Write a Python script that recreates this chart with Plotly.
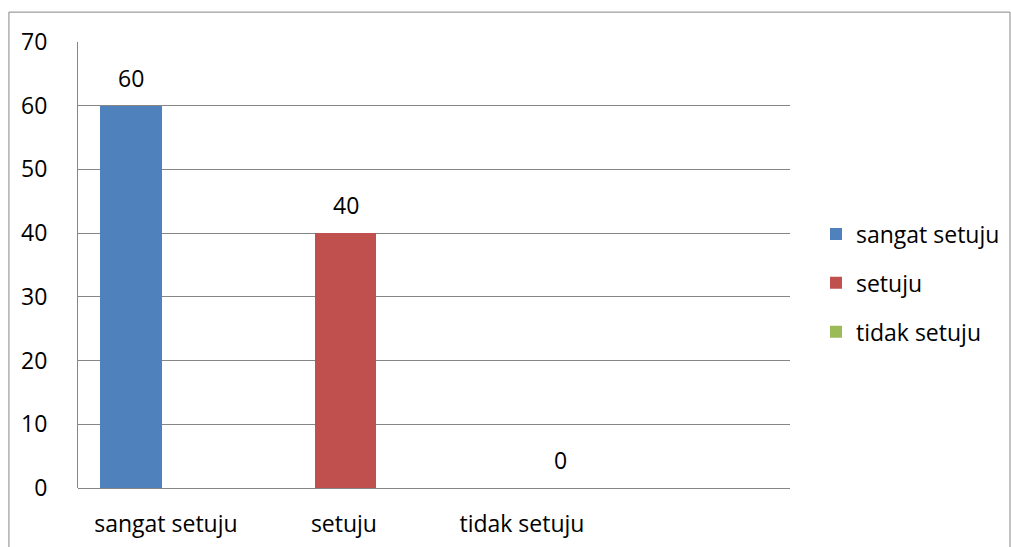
import plotly.graph_objects as go

categories = ["sangat setuju", "setuju", "tidak setuju"]
series_names = ["sangat setuju", "setuju", "tidak setuju"]
values = [60, 40, 0]
colors = ["#4F81BD", "#C0504D", "#9BBB59"]
y_ticks = [0, 10, 20, 30, 40, 50, 60, 70]

FONT = "Open Sans"
FS = 23
fig = go.Figure()
for i, (name, v, c) in enumerate(zip(series_names, values, colors)):
    fig.add_trace(go.Bar(
        x=[i], y=[v], name=name, marker=dict(color=c, line=dict(width=0)),
        width=0.285, legendgroup=name, showlegend=True,
    ))
    fig.add_annotation(x=i, y=v, text=str(v), showarrow=False, yanchor="middle",
                       yshift=28, font=dict(family=FONT, size=FS, color="#000000"))

# invisible trace to carry the category labels on a second x axis
fig.add_trace(go.Scatter(x=categories, y=[0, 0, 0], xaxis="x2", mode="markers",
                         marker=dict(opacity=0), showlegend=False, hoverinfo="skip"))

fig.update_layout(
    width=1011, height=547,
    margin=dict(l=78, r=221, t=42, b=59, autoexpand=False),
    paper_bgcolor="white", plot_bgcolor="white",
    font=dict(family=FONT, size=FS, color="#000000"),
    bargap=0,
    xaxis=dict(range=[-0.247, 3.072], showticklabels=False, showgrid=False,
               zeroline=False, showline=False, ticks="", automargin=False),
    xaxis2=dict(type="category", categoryarray=categories, range=[-0.494, 3.506],
                overlaying="x", side="bottom", showgrid=False, zeroline=False,
                showline=False, ticks="", ticklabelstandoff=20, automargin=False,
                tickfont=dict(family=FONT, size=FS)),
    yaxis=dict(range=[0, 70], tickvals=y_ticks, showgrid=True, gridcolor="#868686",
               gridwidth=1, zeroline=True, zerolinecolor="#868686", zerolinewidth=1,
               showline=True, linecolor="#868686", linewidth=1, ticks="",
               automargin=False,
               ticklabelstandoff=25, tickfont=dict(family=FONT, size=FS)),
    legend=dict(x=1.0365, y=0.4596, xanchor="left", yanchor="middle",
                font=dict(family=FONT, size=FS), tracegroupgap=16,
                itemwidth=30, bgcolor="rgba(0,0,0,0)"),
    showlegend=True,
)
fig.add_shape(type="rect", xref="paper", yref="paper",
              x0=-0.097, x1=1.309, y0=-0.135, y1=1.067,
              line=dict(color="#868686", width=1), fillcolor="rgba(0,0,0,0)")

fig.write_html("out.html", config={"displayModeBar": False},
               post_script="document.body.style.margin='0';document.body.style.overflow='hidden';")
